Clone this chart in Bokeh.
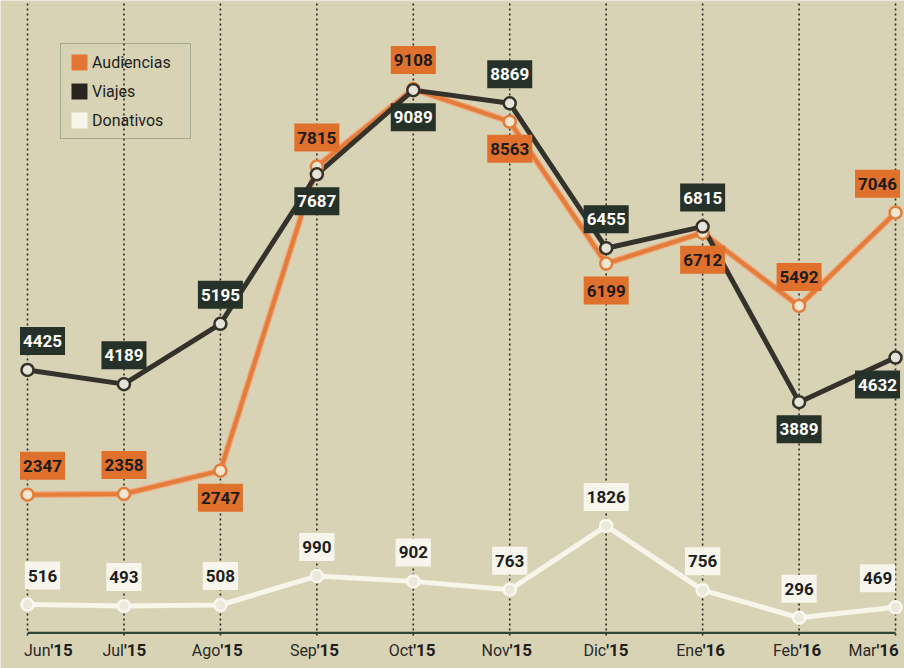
from bokeh.plotting import figure
from bokeh.models import Range1d, Legend, LegendItem
from bokeh.core.properties import value
from bokeh.embed import file_html
from bokeh.resources import INLINE

# ---- data ----
months = ["Jun", "Jul", "Ago", "Sep", "Oct", "Nov", "Dic", "Ene", "Feb", "Mar"]
years = ["'15", "'15", "'15", "'15", "'15", "'15", "'15", "'16", "'16", "'16"]
audiencias = [2347, 2358, 2747, 7815, 9108, 8563, 6199, 6712, 5492, 7046]
viajes = [4425, 4189, 5195, 7687, 9089, 8869, 6455, 6815, 3889, 4632]
donativos = [516, 493, 508, 990, 902, 763, 1826, 756, 296, 469]
# label side: 1 = above the point, -1 = below
aud_side = [1, 1, -1, 1, 1, -1, -1, -1, 1, 1]
via_side = [1, 1, 1, -1, -1, 1, 1, 1, -1, -1]
don_side = [1, 1, 1, 1, 1, 1, 1, 1, 1, 1]

# ---- layout ----
W, H = 904, 668
X0, X1 = -0.280, 9.093
Y0, Y1 = -550, 10583
ux = (X1 - X0) / W
uy = (Y1 - Y0) / H
FONT = "Roboto"
BG = "#d9d3b5"
C_AUD = "#e57d3a"
C_VIA = "#35322c"
C_VIA_BOX = "#263229"
C_DON = "#f8f5ea"

xs = list(range(len(months)))
edge_dx = [15] + [0] * (len(xs) - 2) + [-18]

p = figure(width=W, height=H, output_backend="svg", toolbar_location=None,
           x_range=Range1d(X0, X1), y_range=Range1d(Y0, Y1),
           min_border=0, min_border_left=0, min_border_right=0,
           min_border_top=0, min_border_bottom=0,
           x_axis_location=None, y_axis_location=None,
           background_fill_color=BG, border_fill_color=BG, outline_line_color=None)
p.xgrid.visible = False
p.ygrid.visible = False

# vertical dotted guides
for x in xs:
    p.segment(x0=[x], y0=[0], x1=[x], y1=[Y1], line_color="#2a2a26",
              line_width=1.6, line_dash="2 3")
# baseline
p.segment(x0=[xs[0]], y0=[45], x1=[xs[-1]], y1=[45], line_color="#2d4535", line_width=2.2)

# lines
p.line(xs, donativos, line_color=C_DON, line_width=5, line_join="round")
p.line(xs, audiencias, line_color="#f0a477", line_width=6.5, line_join="round")
p.line(xs, audiencias, line_color=C_AUD, line_width=4, line_join="round")
p.line(xs, viajes, line_color=C_VIA, line_width=5, line_join="round")

# markers
p.scatter(xs, donativos, size=12, fill_color="#ece8da", line_color="#faf8f0", line_width=2.5)
p.scatter(xs, audiencias, size=12, fill_color="#efe6d4", line_color=C_AUD, line_width=2.5)
p.scatter(xs, viajes, size=12, fill_color="#e6e4d8", line_color=C_VIA, line_width=2.5)


def labels(vals, sides, fill, tcolor):
    lx = [x + d * ux for x, d in zip(xs, edge_dx)]
    ly = [v + (29 if s > 0 else -27) * uy for v, s in zip(vals, sides)]
    p.text(x=lx, y=ly, text=[str(v) for v in vals], text_font=value(FONT),
           text_font_style="bold", text_font_size="17px", text_align="center",
           text_baseline="middle", text_color=tcolor,
           background_fill_color=fill, padding=(3, 8))


labels(donativos, don_side, "#f7f5ec", "#1e1e1c")
labels(audiencias, aud_side, "#e0712d", "#1e1a16")
labels(viajes, via_side, C_VIA_BOX, "#ffffff")

# x labels (month normal + year bold)
lab_dx = [23] + [0] * (len(xs) - 2) + [-19]
jx = [x + d * ux for x, d in zip(xs, lab_dx)]
ly = [-250] * len(xs)
p.text(x=jx, y=ly, text=months, text_font=value(FONT), text_font_size="16px",
       text_align="right", text_baseline="middle", text_color="#2a2926")
p.text(x=jx, y=ly, text=years, text_font=value(FONT), text_font_size="17px",
       text_font_style="bold", text_align="left", text_baseline="middle",
       text_color="#1f1e1b")

# legend (swatch renderers sit outside the visible range)
r1 = p.quad(left=[-5], right=[-4], top=[-5000], bottom=[-6000], fill_color="#e27735", line_color=None)
r2 = p.quad(left=[-5], right=[-4], top=[-5000], bottom=[-6000], fill_color="#2a2420", line_color=None)
r3 = p.quad(left=[-5], right=[-4], top=[-5000], bottom=[-6000], fill_color="#f7f4ea", line_color=None)
leg = Legend(items=[LegendItem(label="Audiencias", renderers=[r1]),
                    LegendItem(label="Viajes", renderers=[r2]),
                    LegendItem(label="Donativos", renderers=[r3])],
             location=(60, 529), glyph_width=20, glyph_height=20, label_height=17,
             spacing=9, padding=8, margin=0, label_standoff=3,
             label_text_font=FONT, label_text_font_size="16px", label_text_color="#1e1e1c",
             background_fill_alpha=0, border_line_color="#6f8270", border_line_width=1.3)
leg.label_width = 90
p.add_layout(leg)

open("out.html", "w").write(file_html(p, INLINE))
